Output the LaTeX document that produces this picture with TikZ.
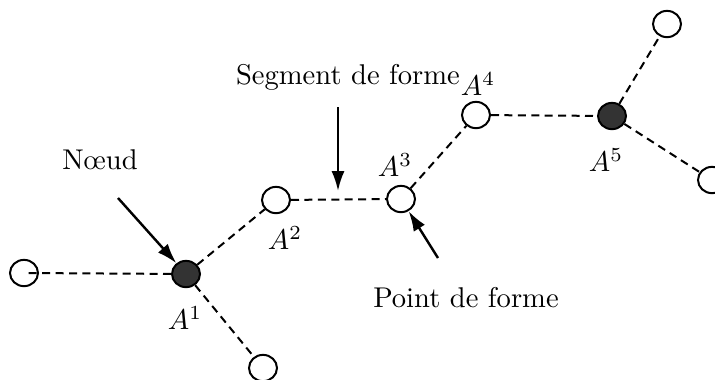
\documentclass[tikz,border=0pt]{standalone}
\usepackage{tikz}
\usetikzlibrary{positioning, arrows.meta, shapes.geometric}
\definecolor{knotFill}{HTML}{333333}

\begin{document}
\begin{tikzpicture}[x=0.35pt,y=-0.35pt,shp/.style={draw, ellipse, line width=0.7pt, minimum width=9.8pt, minimum height=9.2pt, inner sep=0pt, fill=white},knot/.style={shp, fill=knotFill},seg/.style={dash pattern=on 2.8pt off 1.9pt, line width=0.7pt},lbl/.style={font=\normalsize},arr/.style={-{Latex[length=7pt, width=4.6pt]}, line width=0.85pt}]
\useasboundingbox (0,0) rectangle (715,379);
\node[shp] (p0) at (24,273) {};
\node[knot] (a1) at (186,274) {};
\node[shp] (b1) at (263,368) {};
\node[shp] (a2) at (276,200) {};
\node[shp] (a3) at (401,199) {};
\node[shp] (a4) at (476,115) {};
\node[knot] (a5) at (612,116) {};
\node[shp] (t5) at (667,24) {};
\node[shp] (r5) at (712,180) {};
\draw[seg] (a1)--(p0.center); \draw[seg] (a1)--(b1); \draw[seg] (a1)--(a2); \draw[seg] (a2)--(a3); \draw[seg] (a3)--(a4); \draw[seg] (a4)--(a5); \draw[seg] (a5)--(t5); \draw[seg] (a5)--(r5);
\node[lbl] (l1) at (185,318) {$A^1$}; \node[lbl] (l2) at (285,238) {$A^2$}; \node[lbl] (l3) at (395,165) {$A^3$}; \node[lbl] (l4) at (478,84) {$A^4$}; \node[lbl] (l5) at (606,160) {$A^5$};
\node[lbl] (noeud) at (100,160) {N\oe ud};
\node[lbl] (segf) at (348,77) {Segment de forme};
\node[lbl] (ptf) at (466,298) {Point de forme};
\coordinate (nt) at (118,198); \coordinate (st) at (338,107); \coordinate (sh) at (338,191); \coordinate (pt) at (438,258);
\draw[arr] (nt)--(a1); \draw[arr] (st)--(sh); \draw[arr] (pt)--(a3);
\end{tikzpicture}
\end{document}
